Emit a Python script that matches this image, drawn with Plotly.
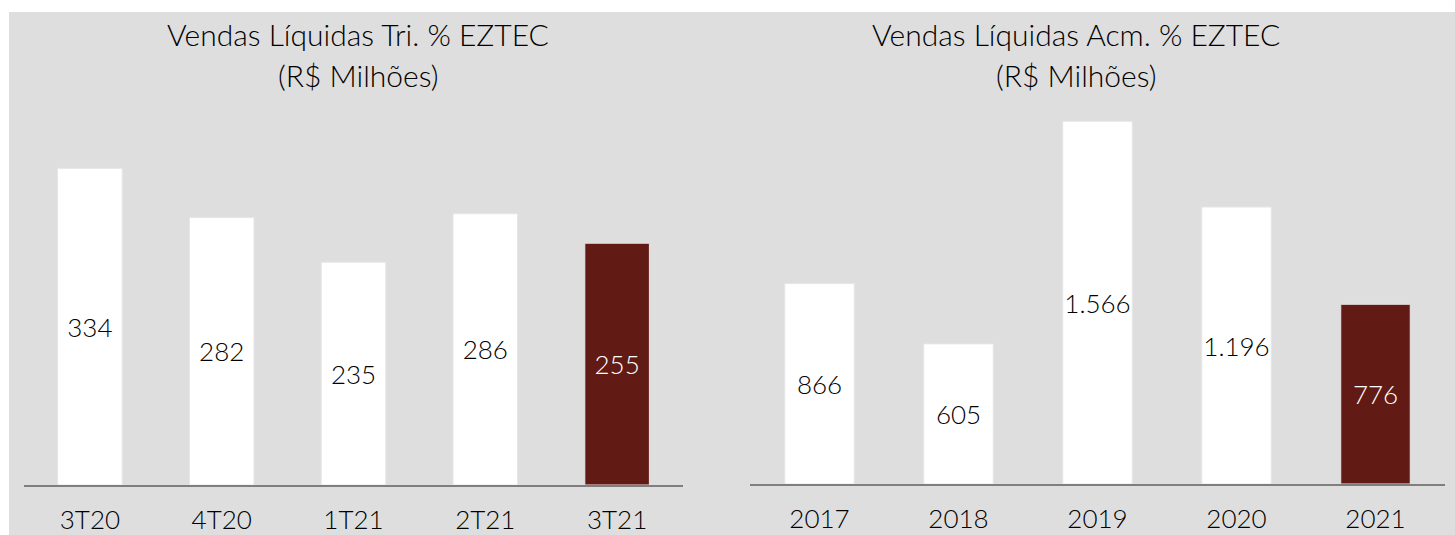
import plotly.graph_objects as go

# ---- data ----
tri_categories = ["3T20", "4T20", "1T21", "2T21", "3T21"]
tri_values = [334, 282, 235, 286, 255]
acm_categories = ["2017", "2018", "2019", "2020", "2021"]
acm_values = [866, 605, 1566, 1196, 776]
title_left = ["Vendas Líquidas Tri. % EZTEC", "(R$ Milhões)"]
title_right = ["Vendas Líquidas Acm. % EZTEC", "(R$ Milhões)"]

W, H = 1455, 535
FONT = "Lato"
WEIGHT = 300
BG = "#dedede"
DARK = "#611a14"


def fmt(v):
    return f"{v:,}".replace(",", ".")


def colors(n):
    return ["#ffffff"] * (n - 1) + [DARK]


def textcolors(n):
    return ["#000000"] * (n - 1) + ["#ffffff"]


def px_x(p):
    return p / W


def px_y(p):
    return 1 - p / H


fig = go.Figure()

fig.add_trace(go.Bar(
    x=tri_categories, y=tri_values, xaxis="x", yaxis="y",
    marker=dict(color=colors(len(tri_values)), line=dict(color="#e6e6e6", width=1)),
    width=0.49,
    text=[fmt(v) for v in tri_values], textposition="inside", insidetextanchor="middle",
    textangle=0, constraintext="none",
    textfont=dict(family=FONT, size=26, weight=WEIGHT, color=textcolors(len(tri_values))),
    hoverinfo="skip",
))
fig.add_trace(go.Bar(
    x=acm_categories, y=acm_values, xaxis="x2", yaxis="y2",
    marker=dict(color=colors(len(acm_values)), line=dict(color="#e6e6e6", width=1)),
    width=0.5,
    text=[fmt(v) for v in acm_values], textposition="inside", insidetextanchor="middle",
    textangle=0, constraintext="none",
    textfont=dict(family=FONT, size=26, weight=WEIGHT, color=textcolors(len(acm_values))),
    hoverinfo="skip",
))

axis_common = dict(showgrid=False, zeroline=False, showline=True, linecolor="#7f7f7f",
                   linewidth=2, ticks="", automargin=False,
                   tickfont=dict(family=FONT, size=26, weight=WEIGHT, color="#000000"),
                   ticklabelstandoff=11, fixedrange=True)
yaxis_common = dict(visible=False, fixedrange=True, automargin=False)

fig.update_layout(
    width=W, height=H,
    margin=dict(l=0, r=0, t=0, b=0, autoexpand=False),
    paper_bgcolor="#ffffff", plot_bgcolor="rgba(0,0,0,0)",
    showlegend=False,
    xaxis=dict(domain=[px_x(24), px_x(683)], anchor="y", **axis_common),
    yaxis=dict(domain=[px_y(485), px_y(100)], range=[0, 406], **yaxis_common),
    xaxis2=dict(domain=[px_x(750), px_x(1445)], anchor="y2", **axis_common),
    yaxis2=dict(domain=[px_y(484), px_y(100)], range=[0, 1658], **yaxis_common),
    shapes=[dict(type="rect", xref="paper", yref="paper", x0=px_x(9), x1=1, y0=0, y1=px_y(12),
                 fillcolor=BG, line=dict(width=0), layer="below")],
)

for cx, lines in [(358, title_left), (1076, title_right)]:
    for t, cy in zip(lines, [34, 75]):
        fig.add_annotation(text=t, x=px_x(cx), y=px_y(cy), xref="paper", yref="paper",
                           xanchor="center", yanchor="middle", showarrow=False,
                           font=dict(family=FONT, size=30, weight=WEIGHT, color="#000000"))

post = (
    "var h=document.documentElement, b=document.body;"
    "h.style.margin='0'; h.style.padding='0'; h.style.overflow='hidden';"
    "b.style.margin='0'; b.style.padding='0'; b.style.overflow='hidden';"
)
fig.write_html("out.html", config={"displayModeBar": False, "staticPlot": True}, post_script=post)
